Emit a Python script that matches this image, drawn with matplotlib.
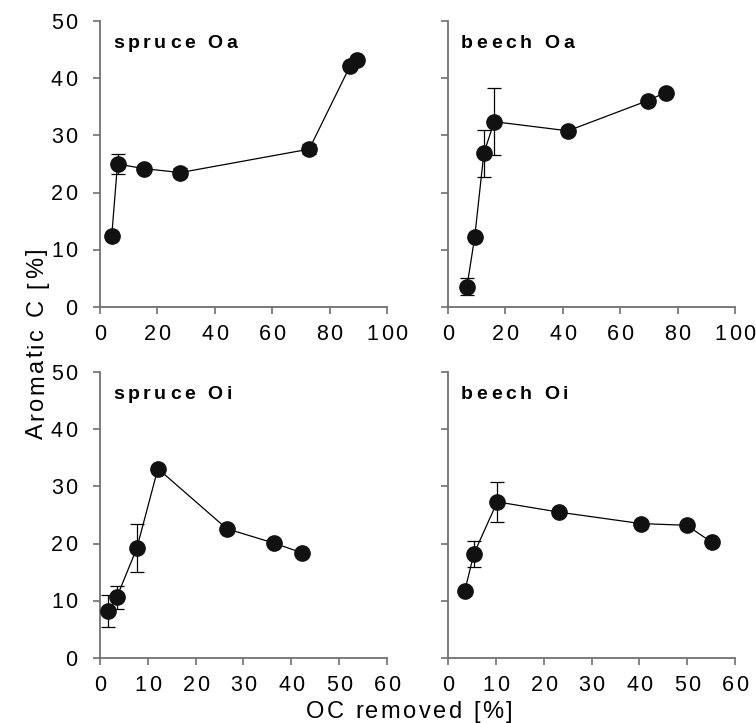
import numpy as np
import matplotlib
matplotlib.use('Agg')
from matplotlib import pyplot as plt
from matplotlib.font_manager import FontProperties

plt.rcParams['font.family'] = ['Liberation Sans', 'DejaVu Sans']

# spruce Oa
spruce_oa_x = [4.1, 6.1, 15.2, 28.0, 72.9, 87.2, 89.5]
spruce_oa_y = [12.5, 25.0, 24.2, 23.5, 27.6, 42.2, 43.1]
spruce_oa_err = [0, 1.75, 0.5, 0.8, 0.9, 0, 0]

# beech Oa
beech_oa_x = [6.6, 9.3, 12.5, 16.1, 41.8, 69.7, 75.8]
beech_oa_y = [3.55, 12.2, 26.9, 32.4, 30.8, 36.1, 37.5]
beech_oa_err = [1.5, 0, 4.1, 5.8, 0, 0, 0]

# spruce Oi
spruce_oi_x = [1.75, 3.5, 7.7, 12.1, 26.5, 36.3, 42.2]
spruce_oi_y = [8.3, 10.6, 19.2, 33.1, 22.6, 20.1, 18.4]
spruce_oi_err = [2.8, 2.0, 4.2, 0, 0, 0, 0]

# beech Oi
beech_oi_x = [3.5, 5.4, 10.3, 23.2, 40.3, 49.9, 55.2]
beech_oi_y = [11.7, 18.2, 27.3, 25.5, 23.5, 23.2, 20.2]
beech_oi_err = [0, 2.3, 3.5, 0, 0, 0, 0]

panels = [
    ('spruce Oa', spruce_oa_x, spruce_oa_y, spruce_oa_err, 100, 20),
    ('beech Oa', beech_oa_x, beech_oa_y, beech_oa_err, 100, 20),
    ('spruce Oi', spruce_oi_x, spruce_oi_y, spruce_oi_err, 60, 10),
    ('beech Oi', beech_oi_x, beech_oi_y, beech_oi_err, 60, 10),
]

fig = plt.figure(figsize=(7.56, 7.23), dpi=100)
W, H = 756., 723.
renderer = fig.canvas.get_renderer()
PX = 0.72  # points per pixel at 100 dpi


def text_w(s, prop):
    # width in points, measured the same way the text gets drawn
    return renderer.get_text_width_height_descent(s, prop, ismath=False)[0] * PX


# draw text with extra letter spacing, char by char
def tracked(obj, xy, s, size, spacing, coords, dx=0, dy=0, ha='center',
            weight='normal', rotation=0):
    prop = FontProperties(family='Liberation Sans', size=size, weight=weight)
    ref = text_w('x', prop)
    pos = [text_w(s[:i] + 'x', prop) - ref for i in range(len(s))]
    total = text_w(s, prop) + spacing * (len(s) - 1)
    start = {'left': 0, 'center': -total / 2, 'right': -total}[ha]
    for i, c in enumerate(s):
        if c == ' ':
            continue
        a = start + pos[i] + spacing * i
        off = (dx + a, dy) if rotation == 0 else (dx, dy + a)
        obj.annotate(c, xy=xy, xycoords=coords, xytext=off,
                     textcoords='offset points', ha='left', va='baseline',
                     rotation=rotation, rotation_mode='anchor',
                     fontsize=size, fontweight=weight,
                     family='Liberation Sans', annotation_clip=False)


# background axes just for the shared axis labels
bg = fig.add_axes([0, 0, 1, 1], zorder=-1)
bg.axis('off')

boxes = [(100, 21), (448, 21), (100, 372), (448, 372)]
spine_col = '#707070'

for (title, x, y, err, xmax, xstep), (px, py) in zip(panels, boxes):
    ax = fig.add_axes([px / W, 1 - (py + 286) / H, 287 / W, 286 / H])
    ax.errorbar(x, y, yerr=err, color='black', lw=0.9, elinewidth=0.9,
                capsize=5, capthick=0.9, marker='o', markersize=11,
                markerfacecolor='#111111', markeredgecolor='#111111', zorder=3)
    ax.set_xlim(0, xmax)
    ax.set_ylim(0, 50)
    xt = np.arange(0, xmax + 1, xstep)
    yt = np.arange(0, 51, 10)
    ax.set_xticks(xt)
    ax.set_yticks(yt)
    for s in ['top', 'right']:
        ax.spines[s].set_visible(False)
    for s in ['left', 'bottom']:
        ax.spines[s].set_color(spine_col)
        ax.spines[s].set_linewidth(1.3)
    ax.tick_params(direction='out', length=5, width=1.2, color=spine_col,
                   labelbottom=False, labelleft=False)
    for t in xt:
        tracked(ax, (t, 0), str(t), 15.5, 1.5, ax.get_xaxis_transform(),
                dy=-33 * PX)
    if px < 300:
        for t in yt:
            tracked(ax, (0, t), str(t), 15.5, 1.5, ax.get_yaxis_transform(),
                    dx=-23 * PX, dy=-7.5 * PX, ha='right')
    tracked(ax, (0, 1), title, 14, 2.6, 'axes fraction', dx=13 * PX,
            dy=-27 * PX, ha='left', weight='bold')

tracked(bg, (43 / W, 1 - 343.5 / H), 'Aromatic C [%]', 17, 1.8,
        'figure fraction', rotation=90)
tracked(bg, (409 / W, 1 - 718 / H), 'OC removed [%]', 17, 1.8,
        'figure fraction')

fig.savefig('out.png', dpi=100)
